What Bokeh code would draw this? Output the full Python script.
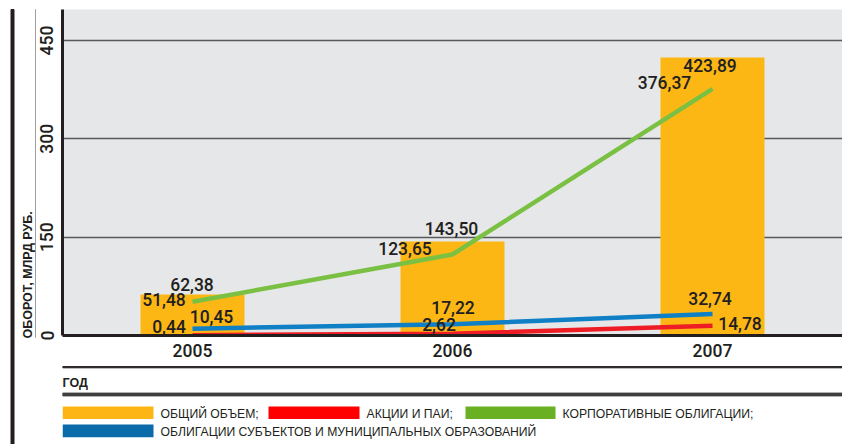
from math import pi
from bokeh.plotting import figure
from bokeh.layouts import row, column
from bokeh.models import ColumnDataSource, Range1d, FixedTicker
from bokeh.core.properties import value
from bokeh.embed import file_html
from bokeh.resources import INLINE

# ---------------- data ----------------
years = [2005, 2006, 2007]
year_labels = ["2005", "2006", "2007"]
total_volume = [62.38, 143.50, 423.89]       # ОБЩИЙ ОБЪЕМ (bars)
shares = [0.44, 2.62, 14.78]                 # АКЦИИ И ПАИ
corporate_bonds = [51.48, 123.65, 376.37]    # КОРПОРАТИВНЫЕ ОБЛИГАЦИИ
municipal_bonds = [10.45, 17.22, 32.74]      # ОБЛИГАЦИИ СУБЪЕКТОВ И МУНИЦИПАЛЬНЫХ ОБРАЗОВАНИЙ
y_ticks = [0, 150, 300, 450]
series_names = ["ОБЩИЙ ОБЪЕМ;", "АКЦИИ И ПАИ;", "КОРПОРАТИВНЫЕ ОБЛИГАЦИИ;",
                "ОБЛИГАЦИИ СУБЪЕКТОВ И МУНИЦИПАЛЬНЫХ ОБРАЗОВАНИЙ"]
y_title = "ОБОРОТ, МЛРД РУБ."
x_title = "ГОД"

# ---------------- styles / layout ----------------
INK = "#231f20"
BAR_COLOR = "#fdb714"
LINE_COLORS = {"shares": "#ee1d25", "corp": "#7ac143", "muni": "#0f7fc6"}
LEGEND_COLORS = ["#fdb515", "#ff0000", "#6ab023", "#0b6aa9"]
FONT = "Roboto Medium"
SMALL = "Liberation Sans"

STRIP_W = 36            # left strip (page x 0..36)
FRAME_L, FRAME_T, FRAME_B, FRAME_R = 62, 9, 335, 842   # page pixels
MAIN_H = 362
TOTAL_H = 444
MAIN_W = FRAME_R - STRIP_W
Y_END = 497.3


def bare(width, height, x0, x1, y0, y1, left_border=0):
    f = figure(width=width, height=height, x_range=Range1d(x0, x1), y_range=Range1d(y0, y1),
               x_axis_type=None, y_axis_type=None, output_backend="svg", toolbar_location=None,
               min_border=0, min_border_left=left_border, min_border_right=0,
               min_border_top=0, min_border_bottom=0)
    f.outline_line_color = None
    f.grid.visible = False
    f.background_fill_color = "white"
    f.border_fill_color = "white"
    return f


# ---------------- main chart ----------------
p = figure(width=MAIN_W, height=MAIN_H,
           x_range=Range1d(years[0] - 0.5, years[-1] + 0.5), y_range=Range1d(0, Y_END),
           output_backend="svg", toolbar_location=None,
           min_border_left=FRAME_L - STRIP_W, min_border_right=0,
           min_border_top=FRAME_T, min_border_bottom=MAIN_H - FRAME_B)
p.background_fill_color = "#e6e7e8"
p.border_fill_color = "white"
p.outline_line_color = None

p.xaxis.ticker = FixedTicker(ticks=years)
p.xaxis.major_label_overrides = {y: lab for y, lab in zip(years, year_labels)}
p.yaxis.ticker = FixedTicker(ticks=y_ticks)
for ax in (p.xaxis, p.yaxis):
    ax.axis_line_width = 3
    ax.axis_line_color = INK
    ax.major_tick_line_color = None
    ax.minor_tick_line_color = None
    ax.major_label_text_font = FONT
    ax.major_label_text_font_size = "17.5px"
    ax.major_label_text_color = INK
p.xaxis.major_label_standoff = 2
p.yaxis.major_label_standoff = 3
p.yaxis.major_label_orientation = "vertical"

p.xgrid.grid_line_color = None
p.ygrid.ticker = FixedTicker(ticks=y_ticks)
p.ygrid.grid_line_color = "#58595b"
p.ygrid.grid_line_width = 1.5

p.vbar(x=years, top=total_volume, width=0.4, fill_color=BAR_COLOR, line_color=None)
p.line(years, corporate_bonds, line_width=4.5, line_color=LINE_COLORS["corp"])
p.line(years, municipal_bonds, line_width=4.5, line_color=LINE_COLORS["muni"])
p.line(years, shares, line_width=4.5, line_color=LINE_COLORS["shares"])

# value labels (offsets in screen px are layout only)
offsets_total = [(-0.5, -10), (-1, -13), (-2.5, 8)]
offsets_corp = [(-28.5, -2), (-47.5, -6), (-48, -6)]
offsets_muni = [(19, -12), (0.5, -17), (-2.5, -15.5)]
offsets_shares = [(-23.5, -9), (-13.5, -9), (27.5, -2)]

lx, ly, lt, ox, oy = [], [], [], [], []
for vals, offs in ((total_volume, offsets_total), (corporate_bonds, offsets_corp),
                   (municipal_bonds, offsets_muni), (shares, offsets_shares)):
    for yr, v, (a, b) in zip(years, vals, offs):
        lx.append(yr)
        ly.append(v)
        lt.append(f"{v:.2f}".replace(".", ","))
        ox.append(a)
        oy.append(b)
src = ColumnDataSource(dict(x=lx, y=ly, text=lt, xo=ox, yo=oy))
p.text(x="x", y="y", text="text", x_offset="xo", y_offset="yo", source=src,
       text_align="center", text_baseline="middle",
       text_font=value(FONT), text_font_size="17.5px", text_color=INK)

# ---------------- left strip: frame rules + y title ----------------
s = bare(STRIP_W, TOTAL_H, 0, STRIP_W, TOTAL_H, 0)
s.quad(left=[10.5], right=[13.5], top=[FRAME_T], bottom=[TOTAL_H], color=INK)
s.quad(left=[35], right=[36], top=[FRAME_T], bottom=[337], color="#9d9fa2")
s.text(x=[27], y=[338], text=[y_title], angle=pi / 2, text_align="left",
       text_baseline="middle", text_font=value(SMALL), text_font_style="bold",
       text_font_size="12.5px", text_color=INK)

# ---------------- bottom: x title, rules, legend ----------------
b = bare(MAIN_W, TOTAL_H - MAIN_H, FRAME_L, FRAME_R, TOTAL_H, MAIN_H,
         left_border=FRAME_L - STRIP_W)
b.quad(left=[FRAME_L], right=[FRAME_R], top=[366.1], bottom=[367.3], color=INK)
b.quad(left=[FRAME_L], right=[FRAME_R], top=[392.6], bottom=[395.4], color="#3f3f41")
b.text(x=[FRAME_L], y=[382], text=[x_title], text_align="left", text_baseline="middle",
       text_font=value(SMALL), text_font_style="bold", text_font_size="12.5px",
       text_color=INK)

sw_left = [62, 268, 465, 62]
sw_right = [153, 359, 555, 153]
sw_top = [406, 406, 406, 424]
sw_bottom = [418.5, 418.5, 418.5, 436.7]
b.quad(left=sw_left, right=sw_right, top=sw_top, bottom=sw_bottom,
       fill_color=LEGEND_COLORS, line_color=None)
b.text(x=[r + 7 for r in sw_right], y=[(t + bb) / 2 + 1.5 for t, bb in zip(sw_top, sw_bottom)],
       text=series_names, text_align="left", text_baseline="middle",
       text_font=value(SMALL), text_font_size="12.2px", text_color=INK)

layout = row(s, column(p, b, spacing=0), spacing=0)
open("out.html", "w").write(file_html(layout, INLINE))
